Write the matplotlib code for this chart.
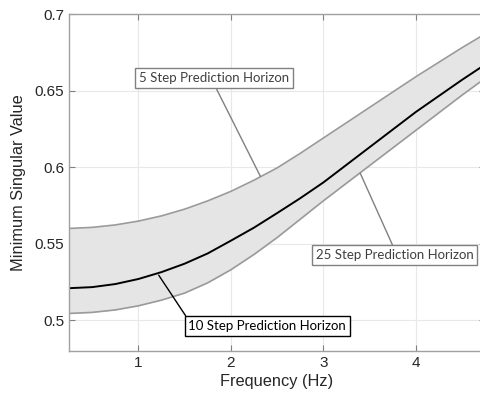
import numpy as np
import matplotlib.pyplot as plt

# values
freq = [0.25, 0.5, 0.75, 1.0, 1.25, 1.5, 1.75, 2.0, 2.25, 2.5, 2.75, 3.0, 3.5, 4.0, 4.5, 4.75]
sv_5 = [0.560, 0.5607, 0.5623, 0.5648, 0.5682, 0.5726, 0.578, 0.5842, 0.5915, 0.5995,
        0.609, 0.619, 0.639, 0.659, 0.678, 0.687]
sv_10 = [0.521, 0.5217, 0.5237, 0.527, 0.5315, 0.537, 0.5437, 0.552, 0.5605, 0.570,
         0.5797, 0.590, 0.613, 0.636, 0.657, 0.667]
sv_25 = [0.5045, 0.5052, 0.5068, 0.5095, 0.5132, 0.5178, 0.5245, 0.533, 0.543, 0.554,
         0.566, 0.578, 0.601, 0.624, 0.647, 0.658]

xticks = [1, 2, 3, 4]
yticks = [0.5, 0.55, 0.6, 0.65, 0.7]
ytick_labels = ["0.5", "0.55", "0.6", "0.65", "0.7"]

plt.rcParams['font.family'] = ['Liberation Sans', 'DejaVu Sans']

fig = plt.figure(figsize=(4.81, 3.99), dpi=100)
ax = fig.add_axes([0.1435, 0.1203, 0.865, 0.8446])

ax.fill_between(freq, sv_25, sv_5, color="#e5e5e5", lw=0)
ax.plot(freq, sv_5, color="#9a9a9a", lw=1.2)
ax.plot(freq, sv_25, color="#9a9a9a", lw=1.2)
ax.plot(freq, sv_10, color="black", lw=1.4)

ax.set_xlim(0.25, 4.75)
ax.set_ylim(0.48, 0.7)
ax.set_xticks(xticks)
ax.set_yticks(yticks)
ax.set_yticklabels(ytick_labels)
ax.grid(True, color="#e8e8e8", lw=0.8)
ax.set_axisbelow(True)
ax.tick_params(direction="in", top=True, right=True, colors="#808080",
               labelcolor="#262626", labelsize=11, length=4)
for s in ax.spines.values():
    s.set_color("#a0a0a0")
    s.set_linewidth(1.0)

ax.set_xlabel("Frequency (Hz)", fontsize=11.8, color="#262626", labelpad=3)
ax.set_ylabel("Minimum Singular Value", fontsize=11.8, color="#262626", labelpad=6)

box_grey = dict(boxstyle="square,pad=0.3", fc="white", ec="#808080", lw=1)
box_black = dict(boxstyle="square,pad=0.3", fc="white", ec="black", lw=1)
afont = dict(family=["Lato", "DejaVu Sans"], fontsize=9.5, color="#404040")

ax.annotate("5 Step Prediction Horizon", xy=(2.32, 0.594), xytext=(1.82, 0.658),
            ha="center", va="center", bbox=box_grey,
            arrowprops=dict(arrowstyle="-", color="#808080", lw=1,
                            relpos=(0.5, 0), shrinkA=0, shrinkB=0), **afont)
ax.annotate("25 Step Prediction Horizon", xy=(3.40, 0.596), xytext=(3.77, 0.5424),
            ha="center", va="center", bbox=box_grey,
            arrowprops=dict(arrowstyle="-", color="#808080", lw=1,
                            relpos=(0.5, 1), shrinkA=0, shrinkB=0), **afont)
ax.annotate("10 Step Prediction Horizon", xy=(1.22, 0.5295), xytext=(2.395, 0.4963),
            ha="center", va="center", bbox=box_black,
            arrowprops=dict(arrowstyle="-", color="black", lw=1,
                            relpos=(0, 1), shrinkA=0, shrinkB=0),
            family=["Lato", "DejaVu Sans"], fontsize=9.5, color="black")

fig.savefig("out.png", dpi=100)
